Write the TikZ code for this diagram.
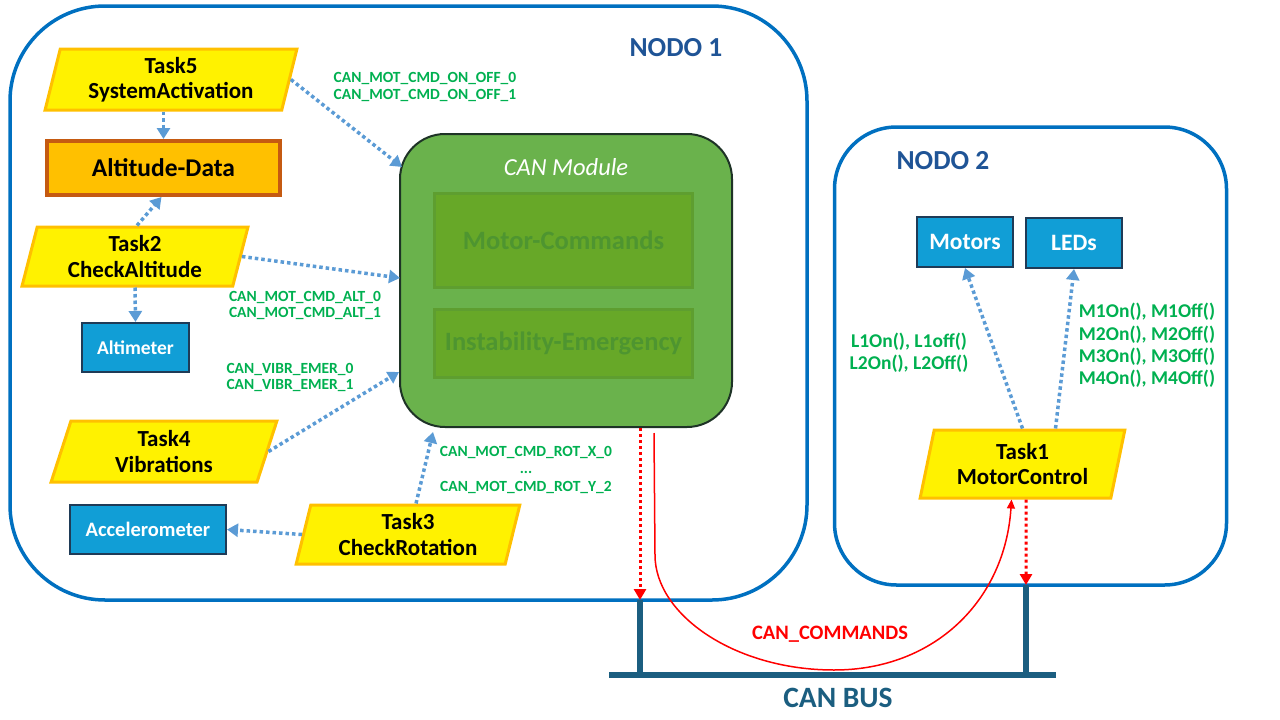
\documentclass[tikz,border=0pt]{standalone}
\usepackage{fontspec}
\setmainfont{Carlito}
\usetikzlibrary{arrows.meta,shapes.geometric,calc}
\definecolor{nodeline}{HTML}{0070C0}
\definecolor{nodetext}{HTML}{1F5496}
\definecolor{busc}{HTML}{1B5E80}
\definecolor{taskborder}{HTML}{FFC000}
\definecolor{altfill}{HTML}{FFC000}
\definecolor{altborder}{HTML}{C55A11}
\definecolor{hwfill}{HTML}{119ED6}
\definecolor{hwborder}{HTML}{1F3B57}
\definecolor{canfill}{HTML}{6AB24C}
\definecolor{canborder}{HTML}{1E3326}
\definecolor{subfill}{HTML}{67A828}
\definecolor{subborder}{HTML}{5E9E30}
\definecolor{subtext}{HTML}{4E9530}
\definecolor{labgreen}{HTML}{00B050}
\definecolor{arrowblue}{HTML}{5B9BD5}
\begin{document}
\begin{tikzpicture}[x=1pt,y=-1pt,
  container/.style={draw=nodeline, line width=3.5pt, rounded corners=#1, inner sep=0pt},
  nodelabel/.style={text=nodetext, font=\fontsize{27.5}{30}\selectfont\bfseries},
  task/.style={trapezium, trapezium left angle=76, trapezium right angle=104, trapezium stretches=true,
    draw=taskborder, line width=3pt, fill=yellow, inner sep=0pt, align=center,
    font=\fontsize{23}{25.5}\selectfont\bfseries},
  hw/.style={draw=hwborder, fill=hwfill, line width=2pt, text=white, inner sep=0pt, font=\bfseries},
  sub/.style={draw=subborder, fill=subfill, line width=3pt, text=subtext, inner sep=0pt,
    minimum width=258pt, font=\fontsize{26.5}{28}\selectfont\bfseries},
  lab/.style={text=labgreen, align=center, font=\fontsize{15.5}{16.5}\selectfont\bfseries},
  labr/.style={text=labgreen, align=center, font=\fontsize{19.5}{22.3}\selectfont\bfseries},
  barrow/.style={draw=arrowblue, line width=3.5pt, dash pattern=on 3.5pt off 3pt,
    -{Triangle[length=11pt,width=13pt]}},
  rdot/.style={draw=red, line width=3pt, dash pattern=on 3pt off 3pt,
    -{Triangle[length=11pt,width=12pt]}},
  rcurve/.style={draw=red, line width=1.5pt, -{Triangle[length=9pt,width=8pt]}},
  bus/.style={draw=busc, line width=6.5pt}
]
\useasboundingbox (0,0) rectangle (1280,720);

% containers
\node[container=95pt, minimum width=797pt, minimum height=594pt] (nodo1) at (408.5,303) {};
\node[container=62pt, minimum width=392pt, minimum height=458pt] (nodo2) at (1030.5,356) {};
\node[nodelabel] (n1lab) at (676,48) {NODO 1};
\node[nodelabel] (n2lab) at (943,161) {NODO 2};

% CAN module
\node[draw=canborder, fill=canfill, line width=2pt, rounded corners=45pt,
  minimum width=332pt, minimum height=293pt, inner sep=0pt] (can) at (566,280.5) {};
\node[text=white, font=\fontsize{24.5}{26}\selectfont\itshape] (canlab) at (566,167) {CAN Module};
\node[sub, minimum height=94pt] (mc) at (563.5,240.5) {Motor-Commands};
\node[sub, minimum height=68pt] (ie) at (563.5,343) {Instability-Emergency};

% node 1 tasks and data
\node[task, minimum width=252pt, minimum height=61pt] (t5) at (171,79.5) {Task5\\SystemActivation};
\node[draw=altborder, fill=altfill, line width=4pt, inner sep=0pt, minimum width=233pt, minimum height=54pt,
  font=\fontsize{25.5}{28}\selectfont\bfseries] (alt) at (163.5,168) {Altitude-Data};
\node[task, minimum width=226pt, minimum height=59pt] (t2) at (135,256.5) {Task2\\CheckAltitude};
\node[hw, minimum width=107pt, minimum height=49pt, font=\fontsize{19.5}{21}\selectfont\bfseries] (altm) at (135.5,347.5) {Altimeter};
\node[task, minimum width=226pt, minimum height=61pt] (t4) at (164,451.5) {Task4\\Vibrations};
\node[hw, minimum width=156pt, minimum height=49pt, font=\fontsize{20.5}{22}\selectfont\bfseries] (acc) at (148,529.5) {Accelerometer};
\node[task, minimum width=224pt, minimum height=59pt] (t3) at (408,534.5) {Task3\\CheckRotation};

% node 2
\node[task, minimum width=205pt, minimum height=68pt] (t1) at (1022.5,464) {Task1\\MotorControl};
\node[hw, minimum width=96pt, minimum height=50pt, font=\fontsize{23.5}{25}\selectfont\bfseries] (mot) at (965,242) {Motors};
\node[hw, minimum width=96pt, minimum height=50pt, font=\fontsize{23.5}{25}\selectfont\bfseries] (led) at (1074,243) {LEDs};

% bus
\coordinate (busA) at (609,675);
\coordinate (busB) at (1056,675);
\coordinate (busL) at (640,600);
\coordinate (busR) at (1026,585);
\draw[bus] (busA) -- (busB);
\draw[bus] (busL) -- (busL |- busA);
\draw[bus] (busR) -- (busR |- busA);
\node[text=busc, font=\fontsize{29.5}{31}\selectfont\bfseries] (buslab) at (838,698) {CAN BUS};

% blue arrows node 1
\draw[barrow] (t5.south -| alt.north) -- (alt.north);
\draw[barrow] ($(t2.north)+(2,0)$) -- ($(alt.south)+(-2,0)$);
\draw[barrow] (t2.south) -- (altm.north);
\coordinate (c5) at (402,167);
\coordinate (c2) at (400,278);
\coordinate (c4) at (399,372);
\coordinate (c3) at (433,432);
\draw[barrow] (t5.east) -- (c5);
\draw[barrow] (t2.east) -- (c2);
\draw[barrow] (t4.east) -- (c4);
\draw[barrow] ($(t3.north)+(8,0)$) -- (c3);
\draw[barrow] (t3.west) -- (acc.east);

% blue arrows node 2
\draw[barrow] (t1.north) -- (mot.south);
\draw[barrow] ($(t1.north)+(33,0)$) -- (led.south);

% labels
\node[lab] (l1) at (425,87) {CAN\_MOT\_CMD\_ON\_OFF\_0\\CAN\_MOT\_CMD\_ON\_OFF\_1};
\node[lab] (l2) at (305,305.5) {CAN\_MOT\_CMD\_ALT\_0\\CAN\_MOT\_CMD\_ALT\_1};
\node[lab] (l3) at (290,377.5) {CAN\_VIBR\_EMER\_0\\CAN\_VIBR\_EMER\_1};
\node[lab, font=\fontsize{15.5}{17.5}\selectfont\bfseries] (l4) at (526,469.5) {CAN\_MOT\_CMD\_ROT\_X\_0\\...\\CAN\_MOT\_CMD\_ROT\_Y\_2};
\node[labr] (l5) at (909,352.5) {L1On(), L1off()\\L2On(), L2Off()};
\node[labr] (l6) at (1147,345.5) {M1On(), M1Off()\\M2On(), M2Off()\\M3On(), M3Off()\\M4On(), M4Off()};

% red connections
\coordinate (cd) at ($(can.south)+(74,0)$);
\draw[rdot] (cd) -- (busL);
\draw[rdot] ($(t1.south)+(3.5,0)$) -- (busR);
\coordinate (cs) at ($(can.south)+(88,5)$);
\coordinate (cb) at (834,670);
\draw[rcurve] (cs) -- ++(1,122) .. controls (655,615) and (735,670) .. (cb)
  .. controls (935,670) and (1005,600) .. ($(t1.south)+(-11,0)$);
\node[text=red, font=\fontsize{20.5}{22}\selectfont\bfseries] (cmdlab) at (830,634) {CAN\_COMMANDS};
\end{tikzpicture}
\end{document}
